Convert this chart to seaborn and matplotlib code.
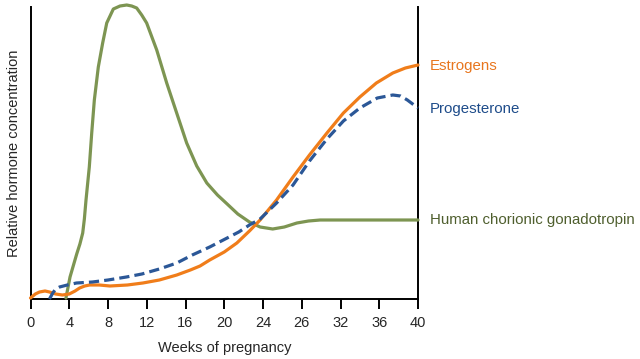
import matplotlib
matplotlib.use("Agg")
import matplotlib.pyplot as plt
import seaborn as sns
import pandas as pd

# ---- data ----
tick_positions = [0, 4, 8, 12, 16, 20, 24, 28, 32, 36, 40]
tick_labels = ["0", "4", "8", "12", "16", "20", "24", "26", "32", "36", "40"]

estrogen_weeks = [0, 0.5, 0.93, 1.5, 1.96, 2.6, 3.3, 4.0, 4.6, 5.07, 5.6, 6.1, 7.1, 8.2,
                  10.0, 11.6, 13.3, 15.1, 16.5, 17.5, 18.5, 20.0, 21.3, 22.6, 23.7, 25.4,
                  27.1, 28.8, 30.6, 32.3, 34.0, 35.7, 37.4, 38.7, 40.0]
estrogen_vals = [1, 5, 7, 8, 7, 5, 4, 5, 8, 11, 13, 14, 14, 13,
                 14, 16, 19, 24, 29, 33, 39, 47, 56, 68, 79, 99,
                 122, 144, 166, 186, 202, 216, 226, 231, 234]

progesterone_weeks = [1.96, 2.3, 2.6, 3.0, 3.8, 4.75, 6.4, 8.0, 9.9, 11.5, 13.3, 15.1,
                      16.7, 18.5, 20.3, 21.5, 22.6, 23.7, 25.4, 27.1, 28.8, 30.6, 32.3,
                      34.0, 35.8, 37.4, 38.2, 38.9, 40.0]
progesterone_vals = [0, 6, 10, 12, 14, 16, 17, 19, 22, 25, 30, 36,
                     44, 52, 61, 67, 74, 80, 96, 114, 138, 160, 178,
                     191, 201, 204, 203, 199, 191]

hcg_weeks = [3.66, 4.08, 4.77, 5.1, 5.39, 5.56, 5.73, 6.07, 6.32, 6.59, 7.0, 7.45, 7.87,
             8.55, 9.24, 9.93, 10.45, 10.96, 11.48, 11.99, 13.03, 14.06, 15.09, 16.12,
             17.16, 18.2, 19.3, 20.3, 21.4, 22.6, 23.7, 25.0, 26.2, 27.5, 28.7, 29.9,
             32.0, 40.0]
hcg_vals = [1, 22, 45, 55, 66, 80, 99, 132, 166, 199, 232, 256, 276,
            290, 293, 294, 293, 291, 284, 276, 249, 216, 186, 156,
            133, 116, 104, 95, 85, 77, 72, 70, 72, 76, 78, 79,
            79, 79]

series_names = ["Estrogens", "Progesterone", "Human chorionic gonadotropin"]
label_vals = [233, 190, 79]

line_colors = ["#F07D1A", "#2B5797", "#7D9552"]
text_colors = ["#E8761E", "#1E4C8A", "#4F5F2E"]

# ---- plotting ----
sns.set_theme(style="white")
plt.rcParams["font.family"] = ["Liberation Sans", "DejaVu Sans"]

fig = plt.figure(figsize=(6.4, 3.59), dpi=100)
ax = fig.add_axes([30.5 / 640, 1 - 299 / 359, (418 - 30.5) / 640, (299 - 7) / 359])

df_e = pd.DataFrame({"week": estrogen_weeks, "val": estrogen_vals})
df_p = pd.DataFrame({"week": progesterone_weeks, "val": progesterone_vals})
df_h = pd.DataFrame({"week": hcg_weeks, "val": hcg_vals})

sns.lineplot(data=df_h, x="week", y="val", ax=ax, color=line_colors[2], lw=2.3,
             clip_on=False, zorder=3, solid_joinstyle="round")
sns.lineplot(data=df_e, x="week", y="val", ax=ax, color=line_colors[0], lw=2.3,
             clip_on=False, zorder=4, solid_joinstyle="round")
sns.lineplot(data=df_p, x="week", y="val", ax=ax, color=line_colors[1], lw=2.3,
             dashes=False, linestyle=(0, (3.2, 1.6)), clip_on=False, zorder=5)

ax.set_xlim(0, 40)
ax.set_ylim(0, 292)
ax.set_xticks(tick_positions)
ax.set_xticklabels(tick_labels, fontsize=10.5)
ax.set_yticks([])
ax.set_xlabel("Weeks of pregnancy", fontsize=10.5, labelpad=8)
ax.set_ylabel("Relative hormone concentration", fontsize=10.5, labelpad=7)

for side in ["left", "right", "bottom"]:
    ax.spines[side].set_visible(True)
    ax.spines[side].set_color("black")
    ax.spines[side].set_linewidth(1.4)
ax.spines["top"].set_visible(False)

ax.tick_params(axis="x", direction="out", length=7, width=1.4, color="black",
               pad=5.5, bottom=True)

for name, v, c in zip(series_names, label_vals, text_colors):
    ax.text(41.2, v, name, color=c, fontsize=10.8, va="center", ha="left", clip_on=False)

fig.savefig("out.png", dpi=100)
